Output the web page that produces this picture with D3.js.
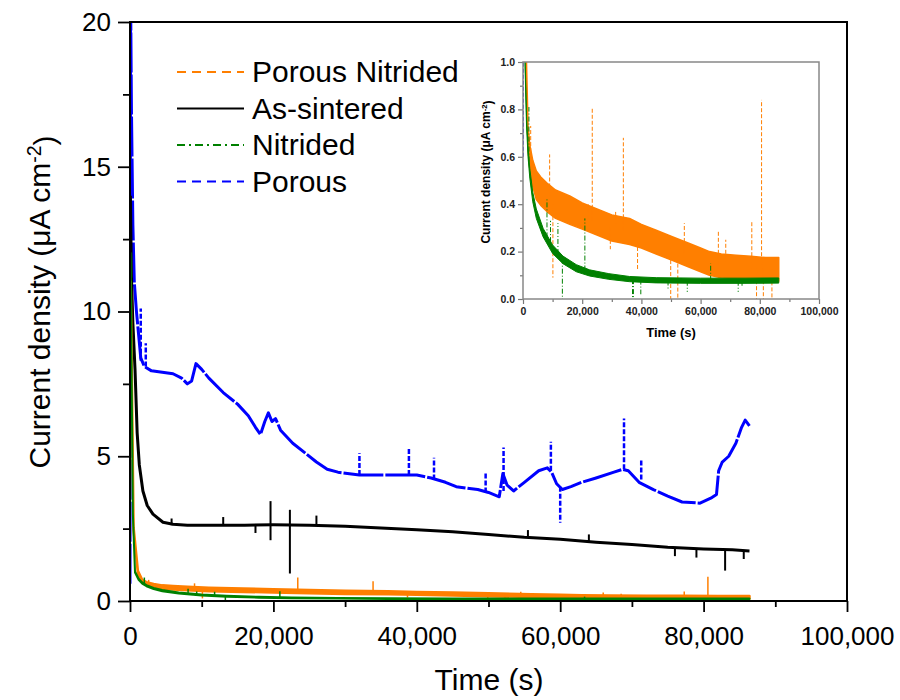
<!DOCTYPE html>
<html>
<head>
<meta charset="utf-8">
<script src="https://cdn.jsdelivr.net/npm/d3@7"></script>
<style>
  body { margin: 0; background: #fff; }
  svg { font-family: "Liberation Sans", Arial, sans-serif; }
</style>
</head>
<body>
<svg id="chart" width="900" height="700"></svg>
<script>
// values: time (s) / current density (uA cm-2)

// Porous (blue, dashed)
const porousT = [0, 80, 200, 400, 600, 900, 1200, 1500, 2000, 3000, 4500, 6000, 7200, 8000, 8600, 9200,
  10000, 11000, 13000, 15000, 16500, 17500, 18200, 18800, 19300, 19800, 20300, 21000, 22700, 24500,
  26000, 27500, 29000, 32000, 36000, 40000, 42000, 44000, 45500, 47000, 48500, 50000, 51500, 52000,
  52600, 53500, 55000, 57000, 58200, 58800, 59500, 60300, 61500, 63000, 65000, 67500, 68700, 69500,
  71000, 73000, 75000, 77000, 79500, 81000, 81800, 82100, 82600, 83500, 84500, 85300, 85800, 86400];
const porousV = [0.6, 21, 17, 13, 11, 10, 9.2, 8.4, 8.1, 7.95, 7.9, 7.85, 7.7, 7.5, 7.6, 8.2,
  8.0, 7.7, 7.2, 6.8, 6.4, 6.0, 5.75, 6.2, 6.5, 6.2, 6.3, 5.9, 5.45, 5.1,
  4.8, 4.55, 4.45, 4.35, 4.35, 4.35, 4.25, 4.1, 3.95, 3.9, 3.85, 3.75, 3.6, 4.4,
  4.0, 3.8, 4.1, 4.5, 4.6, 4.45, 4.05, 3.85, 3.95, 4.1, 4.25, 4.45, 4.55, 4.5,
  4.1, 3.85, 3.62, 3.42, 3.38, 3.55, 3.68, 4.5, 4.8, 5.0, 5.45, 6.0, 6.25, 6.05];
const porousSpikes = [[1500, 8.3, 10.1], [2200, 8.1, 8.9], [32000, 4.35, 5.1], [38900, 4.35, 5.3],
  [42400, 4.2, 4.95], [49600, 3.75, 4.4], [52100, 3.8, 5.3], [58700, 4.5, 5.5], [60000, 3.95, 2.7],
  [68900, 4.55, 6.3], [71300, 4.2, 4.9]];

// As-sintered (black, solid)
const sinteredT = [50, 200, 400, 700, 1000, 1300, 1800, 2400, 3200, 4600, 6000, 8000, 12000, 16000,
  20000, 25000, 30000, 35000, 40000, 45000, 50000, 55000, 60000, 65000, 70000, 75000, 80000, 84000, 86400];
const sinteredV = [14, 11.2, 9.6, 8.0, 5.8, 4.7, 3.8, 3.3, 3.0, 2.72, 2.65, 2.62, 2.62, 2.62,
  2.63, 2.62, 2.58, 2.52, 2.46, 2.39, 2.3, 2.2, 2.13, 2.03, 1.95, 1.86, 1.8, 1.77, 1.73];
const sinteredSpikes = [[5800, 2.62, 2.85], [13000, 2.62, 2.9], [17500, 2.6, 2.35], [19600, 2.1, 3.45],
  [22300, 0.95, 3.15], [26000, 2.62, 2.95], [55500, 2.2, 2.45], [64000, 2.05, 2.3], [76000, 1.85, 1.55],
  [79000, 1.8, 1.5], [83000, 1.77, 1.05], [85600, 1.74, 1.45]];

// Porous Nitrided (orange, dashed) - noisy band: centre and half width
const pnT = [100, 500, 1100, 1700, 2300, 3300, 4500, 6000, 8000, 11000, 15800, 20000, 25000, 30000,
  36000, 40000, 45000, 50000, 56000, 60000, 63000, 67000, 72000, 77000, 82000, 86400];
const pnMid = [11, 2.5, 1.0, 0.68, 0.6, 0.53, 0.48, 0.455, 0.43, 0.4, 0.375, 0.35, 0.325, 0.3,
  0.285, 0.265, 0.24, 0.215, 0.185, 0.165, 0.15, 0.14, 0.135, 0.13, 0.125, 0.125];
const pnHalf = [0.03, 0.04, 0.04, 0.05, 0.05, 0.055, 0.06, 0.06, 0.06, 0.06, 0.06, 0.055, 0.055, 0.055,
  0.055, 0.05, 0.05, 0.05, 0.05, 0.05, 0.05, 0.05, 0.05, 0.05, 0.05, 0.05];
const pnSpikes = [[2600, 0.62, 0.73], [9000, 0.42, 0.61], [10100, 0.4, 0.09], [22000, 0.34, 0.4],
  [23400, 0.33, 0.81], [29500, 0.3, 0.21], [31300, 0.3, 0.37], [33900, 0.29, 0.68], [38700, 0.27, 0.12],
  [49900, 0.215, 0.0], [52300, 0.2, 0.0], [54500, 0.19, 0.32], [66000, 0.14, 0.29], [68500, 0.14, 0.25],
  [77300, 0.13, 0.33], [78900, 0.13, 0.0], [80600, 0.13, 0.84], [81200, 0.13, 0.0], [84100, 0.125, 0.0]];

// Nitrided (green, dash-dot)
const nitT = [80, 400, 700, 1200, 1700, 2300, 3300, 4500, 6800, 10000, 13500, 18000, 22500, 29000,
  36000, 45000, 60000, 75000, 86400];
const nitMid = [12, 3, 1.0, 0.75, 0.62, 0.53, 0.43, 0.36, 0.28, 0.21, 0.165, 0.13, 0.11, 0.095,
  0.084, 0.079, 0.077, 0.077, 0.078];
const nitHalf = [0.02, 0.02, 0.02, 0.02, 0.02, 0.02, 0.02, 0.02, 0.018, 0.018, 0.016, 0.015, 0.013, 0.012,
  0.011, 0.011, 0.011, 0.011, 0.011];
const nitSpikes = [[2000, 0.58, 0.81], [8100, 0.26, 0.42], [9300, 0.24, 0.33], [11800, 0.19, 0.32],
  [13300, 0.17, 0.0], [20900, 0.12, 0.34], [37000, 0.084, 0.0], [37300, 0.084, 0.0], [39800, 0.082, 0.02],
  [49000, 0.078, 0.04], [55500, 0.077, 0.03], [63400, 0.077, 0.15], [72700, 0.077, 0.03], [74000, 0.077, 0.05]];

const legendNames = ["Porous Nitrided", "As-sintered", "Nitrided", "Porous"];

const mainXTicks = [0, 20000, 40000, 60000, 80000, 100000];
const mainXMinor = [10000, 30000, 50000, 70000, 90000];
const mainYTicks = [0, 5, 10, 15, 20];
const mainYMinor = [2.5, 7.5, 12.5, 17.5];
const insetYTicks = [0, 0.2, 0.4, 0.6, 0.8, 1.0];
const insetYMinor = [0.1, 0.3, 0.5, 0.7, 0.9];

const orange = "#ff7f00", green = "#008000", blue = "#0000ff";

const svg = d3.select("#chart");

function drawLine(g, x, y, ts, vs, color, width, dash) {
  g.append("path")
    .datum(ts.map((t, i) => [t, vs[i]]))
    .attr("fill", "none")
    .attr("stroke", color)
    .attr("stroke-width", width)
    .attr("stroke-dasharray", dash)
    .attr("stroke-linejoin", "round")
    .attr("d", d3.line().x(d => x(d[0])).y(d => y(d[1])));
}

// noisy traces are drawn as a filled band between mid-half and mid+half
function drawBand(g, x, y, ts, mid, half, color, edge) {
  let pts = ts.map((t, i) => [t, mid[i] - half[i], mid[i] + half[i]]);
  g.append("path")
    .datum(pts)
    .attr("fill", color)
    .attr("stroke", color)
    .attr("stroke-width", edge)
    .attr("stroke-linejoin", "round")
    .attr("d", d3.area().x(d => x(d[0])).y0(d => y(d[1])).y1(d => y(d[2])));
}

function drawSpikes(g, x, y, spikes, color, width, dash) {
  g.selectAll(null)
    .data(spikes)
    .enter().append("line")
    .attr("x1", d => x(d[0]))
    .attr("x2", d => x(d[0]))
    .attr("y1", d => y(d[1]))
    .attr("y2", d => y(d[2]))
    .attr("stroke", color)
    .attr("stroke-width", width)
    .attr("stroke-dasharray", dash);
}

function ylabel(sel) {
  sel.append("tspan").text("Current density (\u03bcA cm");
  sel.append("tspan").attr("dy", "-0.45em").attr("font-size", "0.65em").text("-2");
  sel.append("tspan").attr("dy", "0.45em").text(")");
}

// ---------- main plot ----------
const x = d3.scaleLinear().domain([0, 100000]).range([130, 847]);
const y = d3.scaleLinear().domain([0, 20]).range([601, 22]);

svg.append("clipPath").attr("id", "mainClip")
  .append("rect").attr("x", 130).attr("y", 22).attr("width", 717).attr("height", 579);

const gMain = svg.append("g").attr("clip-path", "url(#mainClip)");
drawLine(gMain, x, y, porousT, porousV, blue, 3, "40,2");
drawSpikes(gMain, x, y, porousSpikes, blue, 2.5, "5,2");
drawLine(gMain, x, y, sinteredT, sinteredV, "#000", 3, null);
drawSpikes(gMain, x, y, sinteredSpikes, "#000", 2, null);
drawBand(gMain, x, y, pnT, pnMid, pnHalf, orange, 2.5);
drawSpikes(gMain, x, y, pnSpikes, orange, 1.5, null);
drawBand(gMain, x, y, nitT, nitMid, nitHalf, green, 2);
drawSpikes(gMain, x, y, nitSpikes, green, 1.5, null);

// axes
let xAxis = svg.append("g").attr("transform", "translate(0,601)")
  .call(d3.axisBottom(x).tickValues(mainXTicks).tickFormat(d3.format(",")).tickSize(11));
xAxis.selectAll("text").attr("y", 44).attr("dy", 0).attr("font-size", 26).attr("fill", "#000");
svg.append("g").attr("transform", "translate(0,601)")
  .call(d3.axisBottom(x).tickValues(mainXMinor).tickFormat("").tickSize(6));

let yAxis = svg.append("g").attr("transform", "translate(130,0)")
  .call(d3.axisLeft(y).tickValues(mainYTicks).tickSize(12).tickPadding(7));
yAxis.selectAll("text").attr("font-size", 26).attr("fill", "#000");
svg.append("g").attr("transform", "translate(130,0)")
  .call(d3.axisLeft(y).tickValues(mainYMinor).tickFormat("").tickSize(7));

svg.selectAll(".domain").remove();
svg.selectAll(".tick line").attr("stroke", "#000").attr("stroke-width", 1.8);

svg.append("rect")
  .attr("x", 130).attr("y", 22).attr("width", 717).attr("height", 579)
  .attr("fill", "none").attr("stroke", "#000").attr("stroke-width", 2);

svg.append("text")
  .attr("x", 489).attr("y", 690)
  .attr("text-anchor", "middle")
  .attr("font-size", 30)
  .text("Time (s)");

svg.append("text")
  .attr("transform", "translate(50,302) rotate(-90)")
  .attr("text-anchor", "middle")
  .attr("font-size", 30)
  .call(ylabel);

// legend
const legendStyle = [
  {color: orange, dash: "9,6"},
  {color: "#000", dash: null},
  {color: green, dash: "8,4,2,4"},
  {color: blue, dash: "9,6"},
];
let legend = svg.append("g");
legendNames.forEach((name, i) => {
  let cy = 72 + i * 36.5;
  legend.append("line")
    .attr("x1", 177).attr("x2", 244).attr("y1", cy).attr("y2", cy)
    .attr("stroke", legendStyle[i].color)
    .attr("stroke-width", 2)
    .attr("stroke-dasharray", legendStyle[i].dash);
  legend.append("text")
    .attr("x", 252).attr("y", cy + 10)
    .attr("font-size", 30)
    .text(name);
});

// ---------- inset ----------
const xi = d3.scaleLinear().domain([0, 100000]).range([523, 819]);
const yi = d3.scaleLinear().domain([0, 1]).range([299, 62]);

svg.append("rect").attr("x", 468).attr("y", 40).attr("width", 374).attr("height", 308).attr("fill", "#fff");

svg.append("clipPath").attr("id", "insetClip")
  .append("rect").attr("x", 523).attr("y", 62).attr("width", 296).attr("height", 237);

const gIn = svg.append("g").attr("clip-path", "url(#insetClip)");
drawLine(gIn, xi, yi, porousT, porousV, blue, 1.5, "4,2");
drawBand(gIn, xi, yi, pnT, pnMid, pnHalf, orange, 1.5);
drawSpikes(gIn, xi, yi, pnSpikes, orange, 1, "4,2");
drawBand(gIn, xi, yi, nitT, nitMid, nitHalf, green, 1);
drawSpikes(gIn, xi, yi, nitSpikes, green, 1, "5,2,1,2");

let inX = svg.append("g").attr("transform", "translate(0,299)")
  .call(d3.axisBottom(xi).tickValues(mainXTicks).tickFormat(d3.format(",")).tickSize(5).tickPadding(4));
svg.append("g").attr("transform", "translate(0,299)")
  .call(d3.axisBottom(xi).tickValues(mainXMinor).tickFormat("").tickSize(3));
let inY = svg.append("g").attr("transform", "translate(523,0)")
  .call(d3.axisLeft(yi).tickValues(insetYTicks).tickFormat(d3.format(".1f")).tickSize(5).tickPadding(3));
svg.append("g").attr("transform", "translate(523,0)")
  .call(d3.axisLeft(yi).tickValues(insetYMinor).tickFormat("").tickSize(3));
[inX, inY].forEach(a => a.selectAll("text")
  .attr("font-size", 10.5).attr("font-weight", "bold").attr("fill", "#222"));
svg.selectAll(".domain").remove();
svg.selectAll(".tick line").filter(function() { return !this.getAttribute("stroke-width"); })
  .attr("stroke", "#777").attr("stroke-width", 1.2);

svg.append("rect")
  .attr("x", 523).attr("y", 62).attr("width", 296).attr("height", 237)
  .attr("fill", "none").attr("stroke", "#888").attr("stroke-width", 1.5);

svg.append("text")
  .attr("x", 671).attr("y", 337)
  .attr("text-anchor", "middle")
  .attr("font-size", 13).attr("font-weight", "bold")
  .text("Time (s)");

svg.append("text")
  .attr("transform", "translate(490,172) rotate(-90)")
  .attr("text-anchor", "middle")
  .attr("font-size", 12).attr("font-weight", "bold")
  .call(ylabel);
</script>
</body>
</html>
